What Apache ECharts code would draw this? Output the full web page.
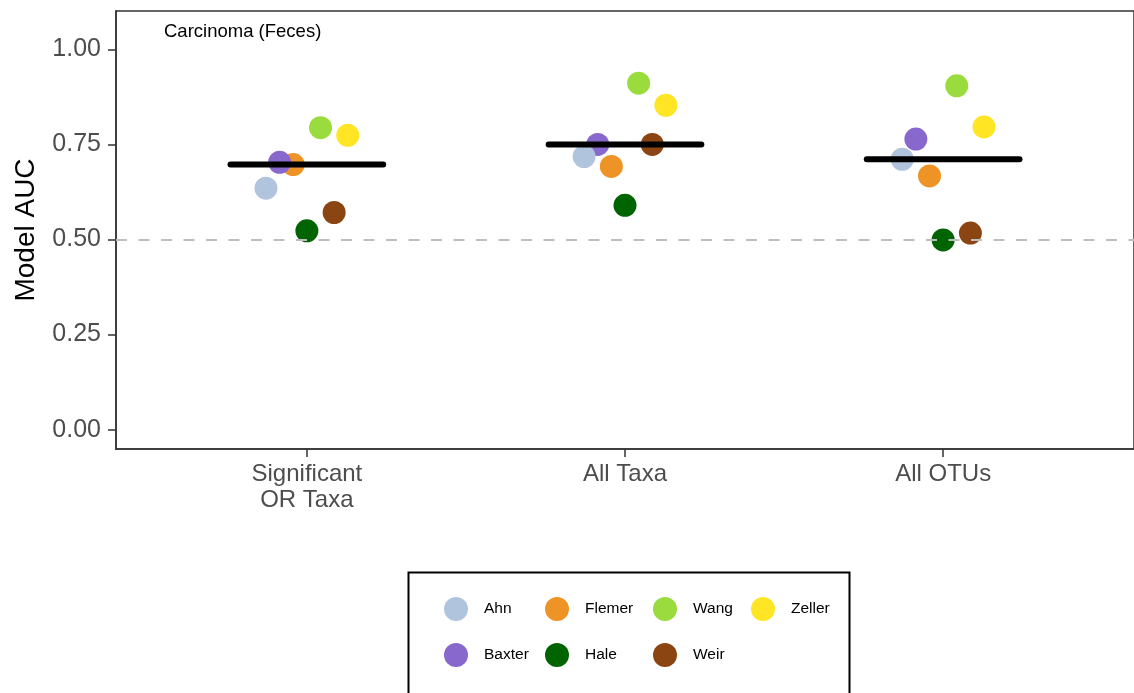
<!DOCTYPE html>
<html>
<head>
<meta charset="utf-8">
<script src="https://cdn.jsdelivr.net/npm/echarts@6/dist/echarts.min.js"></script>
<style>
  html, body { margin: 0; padding: 0; background: #fff; }
  #chart { width: 1134px; height: 693px; }
</style>
</head>
<body>
<div id="chart"></div>
<script>
// model types on the x axis
const models = ['Significant\nOR Taxa', 'All Taxa', 'All OTUs'];
const studies = ['Ahn', 'Baxter', 'Flemer', 'Hale', 'Wang', 'Weir', 'Zeller'];
const yTicks = [0, 0.25, 0.5, 0.75, 1];

// AUC per study, one value per model type
const ahn = [0.635, 0.718, 0.711];
const baxter = [0.703, 0.750, 0.764];
const flemer = [0.697, 0.692, 0.667];
const hale = [0.523, 0.590, 0.499];
const wang = [0.794, 0.911, 0.904];
const weir = [0.571, 0.750, 0.517];
const zeller = [0.774, 0.853, 0.796];

const aucs = [ahn, baxter, flemer, hale, wang, weir, zeller];
const colors = ['#B0C4DE', '#8968CD', '#EE9427', '#006400', '#9ADB3E', '#8B4513', '#FFE524'];
const font = '"Liberation Sans", Arial, sans-serif';

function median(arr) {
  let s = arr.slice().sort((a, b) => a - b);
  let m = Math.floor(s.length / 2);
  return s.length % 2 ? s[m] : (s[m - 1] + s[m]) / 2;
}

// dodge like ggplot position_dodge(width = 0.3)
const dodge = 0.3 / studies.length;

let series = [];

// reference line at 0.5
series.push({
  type: 'line',
  data: [],
  silent: true,
  z: 1,
  markLine: {
    silent: true,
    symbol: 'none',
    label: { show: false },
    lineStyle: { color: '#BEBEBE', width: 2, type: [11, 11.5] },
    data: [{ yAxis: 0.5 }]
  }
});

// points, drawn last study first so the earlier ones sit on top
for (let i = studies.length - 1; i >= 0; i--) {
  series.push({
    name: studies[i],
    type: 'scatter',
    symbol: 'circle',
    symbolSize: 23,
    z: 2,
    itemStyle: { color: colors[i], opacity: 1 },
    data: aucs[i].map((v, g) => [g + 1 + (i - 3) * dodge, v])
  });
}

// median bars
models.forEach((m, g) => {
  let med = median(aucs.map(a => a[g]));
  series.push({
    name: 'median' + g,
    type: 'line',
    symbol: 'none',
    z: 3,
    silent: true,
    lineStyle: { color: '#000', width: 6, cap: 'round' },
    data: [[g + 1 - 0.24, med], [g + 1 + 0.24, med]]
  });
});

const legendCols = [['Ahn', 'Baxter'], ['Flemer', 'Hale'], ['Wang', 'Weir'], ['Zeller']];
const legendLeft = [444, 545, 653, 751];

let option = {
  animation: false,
  backgroundColor: '#fff',
  textStyle: { fontFamily: font },
  title: {
    text: 'Carcinoma (Feces)',
    left: 164,
    top: 22,
    padding: 0,
    textStyle: { fontFamily: font, fontSize: 18.5, fontWeight: 'normal', color: '#000' }
  },
  grid: {
    left: 116, top: 11, right: -2, bottom: 244,
    show: true, borderColor: '#333', borderWidth: 1.5
  },
  xAxis: {
    type: 'value',
    min: 0.4,
    max: 3.6,
    splitLine: { show: false },
    axisLine: { show: true, onZero: false, lineStyle: { color: '#333', width: 1.5 } },
    axisTick: { show: true, length: 8, customValues: [1, 2, 3], lineStyle: { color: '#333', width: 1.5 } },
    axisLabel: {
      customValues: [1, 2, 3],
      margin: 12,
      color: '#4D4D4D',
      fontSize: 24,
      lineHeight: 26,
      fontFamily: font,
      formatter: v => models[Math.round(v) - 1]
    }
  },
  yAxis: {
    type: 'value',
    min: -0.0508,
    max: 1.1008,
    name: 'Model AUC',
    nameLocation: 'middle',
    nameGap: 76,
    nameTextStyle: { color: '#000', fontSize: 28, fontFamily: font },
    splitLine: { show: false },
    axisLine: { show: true, onZero: false, lineStyle: { color: '#333', width: 1.5 } },
    axisTick: { show: true, length: 8, customValues: yTicks, lineStyle: { color: '#333', width: 1.5 } },
    axisLabel: {
      customValues: yTicks,
      margin: 15,
      color: '#4D4D4D',
      fontSize: 25,
      fontFamily: font,
      formatter: v => v.toFixed(2)
    }
  },
  legend: legendCols.map((col, k) => ({
    data: col,
    orient: 'vertical',
    left: legendLeft[k],
    top: 597,
    padding: 0,
    icon: 'circle',
    itemWidth: 24,
    itemHeight: 24,
    itemGap: 22,
    selectedMode: false,
    textStyle: { fontFamily: font, fontSize: 15.5, color: '#000', padding: [0, 0, 0, 11] }
  })),
  graphic: [{
    type: 'rect',
    left: 406,
    top: 570,
    shape: { width: 441, height: 140 },
    style: { fill: 'none', stroke: '#000', lineWidth: 2 },
    silent: true
  }],
  series: series
};

let chart = echarts.init(document.getElementById('chart'));
chart.setOption(option);
</script>
</body>
</html>
